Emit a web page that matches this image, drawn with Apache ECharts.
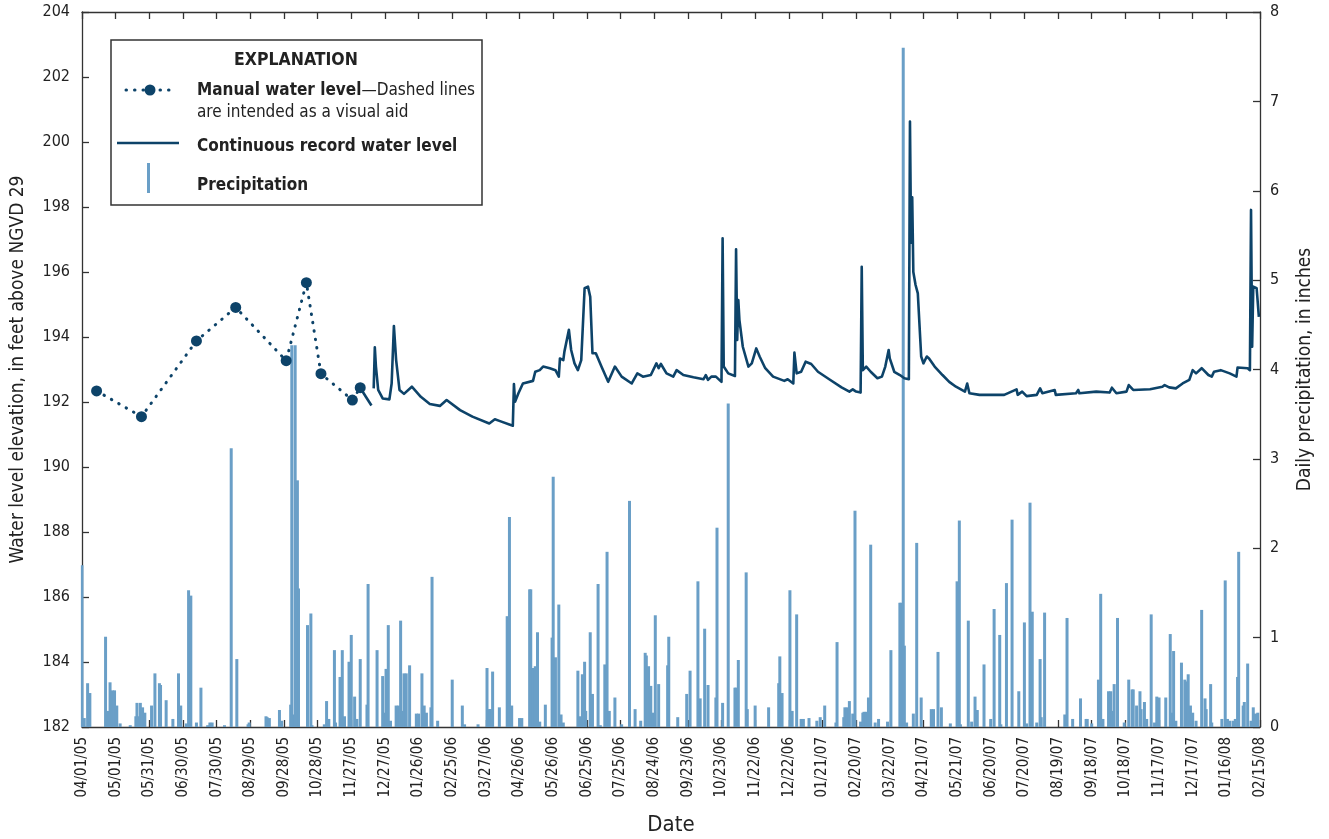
<!DOCTYPE html>
<html>
<head>
<meta charset="utf-8">
<script src="https://cdn.jsdelivr.net/npm/echarts@6/dist/echarts.min.js"></script>
<style>
html,body{margin:0;padding:0;background:#fff;}
#chart{width:1329px;height:839px;}
</style>
</head>
<body>
<div id="chart"></div>
<script>
// ---------------- DATA ----------------
const manualDates = ['2005-04-14','2005-05-24','2005-07-12','2005-08-16','2005-09-30','2005-10-18','2005-10-31','2005-11-28','2005-12-05'];
const manualLevels = [192.34,191.55,193.88,194.91,193.27,195.67,192.87,192.06,192.44];

const contDates = [
'2005-12-05','2005-12-10','2005-12-15','2005-12-16',
'2005-12-17','2005-12-18','2005-12-19','2005-12-21','2005-12-25','2005-12-31',
'2006-01-02','2006-01-04','2006-01-06','2006-01-09','2006-01-13','2006-01-20','2006-01-28',
'2006-02-05','2006-02-14','2006-02-20','2006-03-04','2006-03-15','2006-03-30',
'2006-04-04','2006-04-08','2006-04-20','2006-04-21','2006-04-22','2006-04-25','2006-04-29',
'2006-05-08','2006-05-10','2006-05-14','2006-05-17','2006-05-23','2006-05-28','2006-05-31',
'2006-06-01','2006-06-04','2006-06-05','2006-06-09','2006-06-11','2006-06-14','2006-06-17','2006-06-20',
'2006-06-23','2006-06-26','2006-06-28','2006-06-30','2006-07-03','2006-07-08','2006-07-14','2006-07-20','2006-07-26',
'2006-08-04','2006-08-09','2006-08-14','2006-08-21','2006-08-26','2006-08-28','2006-08-30',
'2006-09-04','2006-09-10','2006-09-13','2006-09-19','2006-09-28',
'2006-10-07','2006-10-09','2006-10-11','2006-10-14','2006-10-18','2006-10-23','2006-10-24','2006-10-25','2006-10-29',
'2006-11-04','2006-11-05','2006-11-06','2006-11-07','2006-11-08','2006-11-11','2006-11-16','2006-11-19','2006-11-23','2006-11-26',
'2006-12-01','2006-12-08','2006-12-18','2006-12-21','2006-12-26','2006-12-27','2006-12-29',
'2007-01-02','2007-01-06','2007-01-11','2007-01-17','2007-01-27',
'2007-02-07','2007-02-14','2007-02-17','2007-02-20','2007-02-24','2007-02-25','2007-02-26',
'2007-03-01','2007-03-05','2007-03-11','2007-03-15','2007-03-18','2007-03-21','2007-03-22','2007-03-26','2007-03-31',
'2007-04-04','2007-04-08','2007-04-09','2007-04-10','2007-04-11','2007-04-12','2007-04-14','2007-04-16','2007-04-19','2007-04-21','2007-04-24','2007-04-26',
'2007-05-01','2007-05-08','2007-05-14','2007-05-20','2007-05-28','2007-05-30',
'2007-06-01','2007-06-10','2007-06-22','2007-06-23',
'2007-07-02','2007-07-13','2007-07-14','2007-07-18','2007-07-22','2007-07-31',
'2007-08-03','2007-08-05','2007-08-16','2007-08-17',
'2007-09-04','2007-09-06','2007-09-07','2007-09-22',
'2007-10-04','2007-10-06','2007-10-10','2007-10-19','2007-10-21','2007-10-25',
'2007-11-09','2007-11-20','2007-11-22','2007-11-26',
'2007-12-02','2007-12-08','2007-12-14','2007-12-17','2007-12-20','2007-12-25','2007-12-31',
'2008-01-03','2008-01-05','2008-01-11','2008-01-19','2008-01-25','2008-01-26',
'2008-02-04','2008-02-06','2008-02-07','2008-02-08','2008-02-09','2008-02-12','2008-02-14'
];
const contLevels = [
192.44,192.16,191.89,null,
192.42,193.68,193.09,192.37,192.11,192.08,
192.57,194.34,193.29,192.37,192.25,192.47,192.16,
191.94,191.88,192.06,191.75,191.55,191.34,
191.47,191.42,191.27,192.55,192.01,192.27,192.57,
192.65,192.93,192.98,193.09,193.04,192.98,192.78,
193.34,193.29,193.55,194.22,193.60,193.19,192.98,193.29,
195.50,195.55,195.24,193.50,193.50,193.09,192.62,193.09,192.78,
192.57,192.88,192.78,192.83,193.19,193.04,193.17,
192.88,192.78,192.98,192.83,192.76,
192.70,192.83,192.68,192.78,192.78,192.62,197.04,193.09,192.88,
192.80,196.70,193.91,195.14,194.52,193.70,193.09,193.19,193.65,193.40,
193.04,192.78,192.65,192.70,192.57,193.52,192.88,
192.93,193.24,193.17,192.93,192.70,
192.45,192.32,192.39,192.32,192.29,196.16,192.98,
193.09,192.93,192.73,192.78,193.09,193.60,193.34,192.93,192.83,
192.73,192.70,200.63,196.90,198.30,196.00,195.60,195.34,193.40,193.19,193.40,193.34,
193.09,192.83,192.62,192.47,192.32,192.57,
192.27,192.22,192.22,192.27,
192.22,192.39,192.22,192.32,192.18,192.22,
192.42,192.27,192.37,192.22,
192.27,192.37,192.27,192.32,
192.29,192.44,192.27,192.32,192.52,192.37,
192.39,192.47,192.52,192.45,
192.42,192.57,192.68,192.98,192.88,193.04,192.83,
192.78,192.93,192.98,192.88,192.78,193.06,
193.04,192.98,197.91,193.70,195.55,195.50,194.62
];

const precipDates = [
'2005-04-01','2005-04-03','2005-04-06','2005-04-08','2005-04-22','2005-04-24','2005-04-26','2005-04-28','2005-04-30',
'2005-05-02','2005-05-05','2005-05-14','2005-05-19','2005-05-20','2005-05-22','2005-05-23','2005-05-25','2005-05-27',
'2005-06-02','2005-06-05','2005-06-09','2005-06-10','2005-06-15','2005-06-21','2005-06-26','2005-06-28',
'2005-07-03','2005-07-05','2005-07-07','2005-07-12','2005-07-16','2005-07-22','2005-07-24','2005-07-26',
'2005-08-06','2005-08-12','2005-08-17','2005-08-27','2005-08-28',
'2005-09-12','2005-09-13','2005-09-15','2005-09-24','2005-09-26',
'2005-10-04','2005-10-05','2005-10-07','2005-10-08','2005-10-10','2005-10-11','2005-10-19','2005-10-22','2005-10-23',
'2005-11-03','2005-11-05','2005-11-07','2005-11-12','2005-11-13','2005-11-17','2005-11-19','2005-11-21','2005-11-25','2005-11-27','2005-11-30',
'2005-12-02','2005-12-05','2005-12-11','2005-12-12','2005-12-20','2005-12-25','2005-12-26','2005-12-28','2005-12-30',
'2006-01-01','2006-01-06','2006-01-08','2006-01-10','2006-01-11','2006-01-13','2006-01-15','2006-01-18','2006-01-24','2006-01-26','2006-01-29','2006-01-31',
'2006-02-02','2006-02-06','2006-02-07','2006-02-12','2006-02-25',
'2006-03-06','2006-03-08','2006-03-20','2006-03-28','2006-03-30','2006-03-31',
'2006-04-02','2006-04-08','2006-04-15','2006-04-17','2006-04-19','2006-04-26','2006-04-28',
'2006-05-05','2006-05-06','2006-05-08','2006-05-10','2006-05-12','2006-05-14','2006-05-19','2006-05-25','2006-05-26','2006-05-28','2006-05-31',
'2006-06-02','2006-06-04','2006-06-17','2006-06-19','2006-06-21','2006-06-23','2006-06-24','2006-06-28','2006-06-30',
'2006-07-05','2006-07-07','2006-07-11','2006-07-13','2006-07-15','2006-07-20','2006-07-26',
'2006-08-02','2006-08-07','2006-08-12','2006-08-16','2006-08-17','2006-08-19','2006-08-21','2006-08-23','2006-08-25','2006-08-28',
'2006-09-05','2006-09-06','2006-09-14','2006-09-22','2006-09-25',
'2006-10-02','2006-10-04','2006-10-08','2006-10-11','2006-10-18','2006-10-19','2006-10-24','2006-10-29',
'2006-11-04','2006-11-05','2006-11-07','2006-11-14','2006-11-15','2006-11-22',
'2006-12-04','2006-12-13','2006-12-14','2006-12-16','2006-12-23','2006-12-25','2006-12-29',
'2007-01-02','2007-01-04','2007-01-09','2007-01-16','2007-01-19','2007-01-23',
'2007-02-02','2007-02-03','2007-02-09','2007-02-10','2007-02-12','2007-02-14','2007-02-17','2007-02-19','2007-02-24','2007-02-26','2007-02-27',
'2007-03-01','2007-03-03','2007-03-05','2007-03-09','2007-03-12','2007-03-20','2007-03-23','2007-03-31',
'2007-04-01','2007-04-03','2007-04-04','2007-04-06','2007-04-12','2007-04-15','2007-04-19','2007-04-28','2007-04-30',
'2007-05-04','2007-05-07','2007-05-15','2007-05-21','2007-05-23','2007-05-24','2007-05-31',
'2007-06-03','2007-06-06','2007-06-08','2007-06-14','2007-06-20','2007-06-23','2007-06-28','2007-06-29',
'2007-07-04','2007-07-09','2007-07-15','2007-07-20','2007-07-22','2007-07-25','2007-07-27','2007-07-31',
'2007-08-03','2007-08-04','2007-08-07','2007-08-25','2007-08-27',
'2007-09-01','2007-09-08','2007-09-13','2007-09-14','2007-09-18','2007-09-24','2007-09-26','2007-09-28',
'2007-10-03','2007-10-05','2007-10-06','2007-10-08','2007-10-11','2007-10-17','2007-10-21','2007-10-24','2007-10-25','2007-10-28','2007-10-31',
'2007-11-01','2007-11-04','2007-11-06','2007-11-10','2007-11-13','2007-11-15','2007-11-17','2007-11-23','2007-11-27','2007-11-29','2007-11-30',
'2007-12-02','2007-12-07','2007-12-10','2007-12-12','2007-12-13','2007-12-15','2007-12-17','2007-12-20','2007-12-25','2007-12-28','2007-12-29',
'2008-01-02','2008-01-03','2008-01-12','2008-01-15','2008-01-17','2008-01-19','2008-01-22','2008-01-24','2008-01-26','2008-01-27','2008-01-31',
'2008-02-01','2008-02-04','2008-02-07','2008-02-09','2008-02-11','2008-02-13'
];
const precipValues = [
1.81,0.10,0.49,0.38,1.01,0.18,0.50,0.41,0.41,
0.24,0.04,0.02,0.12,0.27,0.12,0.27,0.22,0.16,
0.24,0.60,0.49,0.47,0.30,0.09,0.60,0.24,
0.04,1.53,1.47,0.05,0.44,0.02,0.05,0.05,
0.02,3.12,0.76,0.03,0.05,
0.12,0.11,0.10,0.19,0.07,
0.25,4.27,0.14,4.27,2.76,1.55,1.14,1.27,0.02,
0.03,0.29,0.09,0.86,0.05,0.56,0.86,0.12,0.73,1.03,0.34,
0.09,0.76,0.25,1.60,0.86,0.57,0.16,0.65,1.14,
0.07,0.24,0.24,1.19,0.18,0.60,0.60,0.69,0.15,0.15,0.60,0.24,
0.16,0.22,1.68,0.07,0.53,
0.24,0.03,0.03,0.66,0.20,0.20,
0.62,0.22,1.24,2.35,0.24,0.10,0.10,
1.54,1.54,0.66,0.68,1.06,0.06,0.25,1.00,2.80,0.78,1.37,
0.14,0.05,0.63,0.12,0.59,0.73,0.18,1.06,0.37,
1.60,0.02,0.70,1.96,0.18,0.33,0.03,
2.53,0.20,0.07,0.83,0.80,0.68,0.46,0.16,1.25,0.48,
0.69,1.01,0.11,0.37,0.63,
1.63,0.32,1.10,0.47,0.33,2.23,0.27,3.62,
0.44,0.44,0.75,1.73,0.20,0.24,
0.22,0.49,0.79,0.38,1.53,0.18,1.26,
0.09,0.09,0.10,0.07,0.11,0.24,
0.05,0.95,0.11,0.22,0.22,0.29,0.15,2.42,0.06,0.16,0.17,
0.17,0.33,2.04,0.05,0.09,0.06,0.86,1.39,
1.39,7.60,0.91,0.05,0.15,2.06,0.33,0.20,0.20,
0.84,0.22,0.04,1.63,2.31,0.03,1.19,
0.06,0.34,0.19,0.70,0.09,1.32,1.03,0.03,
1.61,2.32,0.40,1.17,0.04,2.51,1.29,0.05,
0.76,0.11,1.28,0.14,1.22,
0.09,0.32,0.09,0.09,0.04,0.53,1.49,0.09,
0.40,0.40,0.18,0.48,1.22,0.05,0.53,0.42,0.42,0.24,0.40,
0.20,0.28,0.09,1.26,0.05,0.34,0.33,0.33,1.04,0.16,0.85,
0.07,0.72,0.53,0.51,0.59,0.24,0.16,0.07,1.31,0.32,0.20,
0.48,0.05,0.09,1.64,0.09,0.07,0.07,0.09,0.56,1.96,0.24,
0.28,0.71,0.07,0.22,0.15,0.16
];

const startDate = '2005-04-01';
const endDate = '2008-02-15';
const tickDays = 30;
const levelMin = 182, levelMax = 204, levelStep = 2;
const precipMin = 0, precipMax = 8, precipStep = 1;

// ---------------- HELPERS ----------------
function utc(s){const p=s.split('-').map(Number);return Date.UTC(p[0],p[1]-1,p[2]);}
const T0 = utc(startDate);
function dayOf(s){return Math.round((utc(s)-T0)/864e5);}
function labelOf(v){
  const d=new Date(T0+v*864e5);
  const mm=String(d.getUTCMonth()+1).padStart(2,'0');
  const dd=String(d.getUTCDate()).padStart(2,'0');
  const yy=String(d.getUTCFullYear()%100).padStart(2,'0');
  return mm+'/'+dd+'/'+yy;
}
const zip=(ds,vs)=>ds.map((d,i)=>[dayOf(d), vs[i]===null?'-':vs[i]]);

const FONT = "'DejaVu Sans Condensed','Liberation Sans Narrow',sans-serif";
const INK = '#222';
const AXIS = '#333';
const LINE = '#0d4369';
const BAR = '#6a9fc7';

const chart = echarts.init(document.getElementById('chart'), null, {renderer:'canvas'});

function axisCommon(){
  return {
    axisLine:{show:true, onZero:false, lineStyle:{color:AXIS, width:1.3}},
    axisTick:{show:true, inside:true, length:7, lineStyle:{color:AXIS, width:1.3}},
    minorTick:{show:false},
    splitLine:{show:false},
    nameMoveOverlap:false
  };
}

const option = {
  animation:false,
  backgroundColor:'#fff',
  textStyle:{fontFamily:FONT},
  grid:{left:82, right:69, top:12, bottom:112, containLabel:false, outerBoundsMode:'none'},
  xAxis:[
    Object.assign(axisCommon(), {
      type:'value', position:'bottom', min:0, max:dayOf(endDate), interval:tickDays,
      name:'Date', nameLocation:'middle', nameGap:87,
      nameTextStyle:{fontFamily:FONT, fontSize:22, color:INK},
      axisLabel:{rotate:90, fontFamily:FONT, fontSize:15, color:INK, margin:10, formatter:labelOf}
    }),
    Object.assign(axisCommon(), {
      type:'value', position:'top', min:0, max:dayOf(endDate), interval:tickDays,
      axisLabel:{show:false}
    })
  ],
  yAxis:[
    Object.assign(axisCommon(), {
      type:'value', position:'left', min:levelMin, max:levelMax, interval:levelStep,
      name:'Water level elevation, in feet above NGVD 29', nameLocation:'middle', nameGap:54, nameRotate:90,
      nameTextStyle:{fontFamily:FONT, fontSize:19, color:INK},
      axisLabel:{fontFamily:FONT, fontSize:16, color:INK, margin:12}
    }),
    Object.assign(axisCommon(), {
      type:'value', position:'right', min:precipMin, max:precipMax, interval:precipStep,
      name:'Daily precipitation, in inches', nameLocation:'middle', nameGap:36, nameRotate:90,
      nameTextStyle:{fontFamily:FONT, fontSize:19, color:INK},
      axisLabel:{fontFamily:FONT, fontSize:16, color:INK, margin:10}
    })
  ],
  series:[
    {
      name:'Precipitation', type:'bar', xAxisIndex:0, yAxisIndex:1,
      data:zip(precipDates, precipValues),
      barWidth:3, itemStyle:{color:BAR}, z:1, silent:true
    },
    {
      name:'Continuous record water level', type:'line', xAxisIndex:0, yAxisIndex:0,
      data:zip(contDates, contLevels), showSymbol:false, connectNulls:false,
      lineStyle:{color:LINE, width:2.6, join:'round'}, z:3, silent:true
    },
    {
      name:'Manual water level', type:'line', xAxisIndex:0, yAxisIndex:0,
      data:zip(manualDates, manualLevels),
      symbol:'circle', symbolSize:11, showSymbol:true,
      itemStyle:{color:LINE},
      lineStyle:{color:LINE, width:3, type:[0.5,8], cap:'round'}, z:4, silent:true
    }
  ],
  graphic:[
    {type:'rect', shape:{x:111, y:40, width:371, height:165}, style:{fill:'#fff', stroke:AXIS, lineWidth:1.5}, z:10},
    {type:'text', x:296, y:60, style:{text:'EXPLANATION', font:"bold 17.5px "+FONT, fill:INK, textAlign:'center', textVerticalAlign:'middle'}, z:11},
    {type:'line', shape:{x1:126, y1:90, x2:177, y2:90}, style:{stroke:LINE, lineWidth:3, lineDash:[0.5,8], lineCap:'round'}, z:11},
    {type:'circle', shape:{cx:150, cy:90, r:5.5}, style:{fill:LINE}, z:11},
    {type:'text', x:197, y:91, style:{
      text:'{b|Manual water level}{n|—Dashed lines}',
      rich:{b:{fontFamily:FONT, fontWeight:'bold', fontSize:17, fill:INK}, n:{fontFamily:FONT, fontSize:17, fill:INK}},
      textVerticalAlign:'middle'}, z:11},
    {type:'text', x:197, y:113, style:{text:'are intended as a visual aid', font:"17px "+FONT, fill:INK, textVerticalAlign:'middle'}, z:11},
    {type:'line', shape:{x1:117, y1:143, x2:179, y2:143}, style:{stroke:LINE, lineWidth:2.6}, z:11},
    {type:'text', x:197, y:147, style:{text:'Continuous record water level', font:"bold 17px "+FONT, fill:INK, textVerticalAlign:'middle'}, z:11},
    {type:'line', shape:{x1:148.5, y1:163, x2:148.5, y2:193}, style:{stroke:BAR, lineWidth:3}, z:11},
    {type:'text', x:197, y:186, style:{text:'Precipitation', font:"bold 17px "+FONT, fill:INK, textVerticalAlign:'middle'}, z:11}
  ]
};
chart.setOption(option);
</script>
</body>
</html>
